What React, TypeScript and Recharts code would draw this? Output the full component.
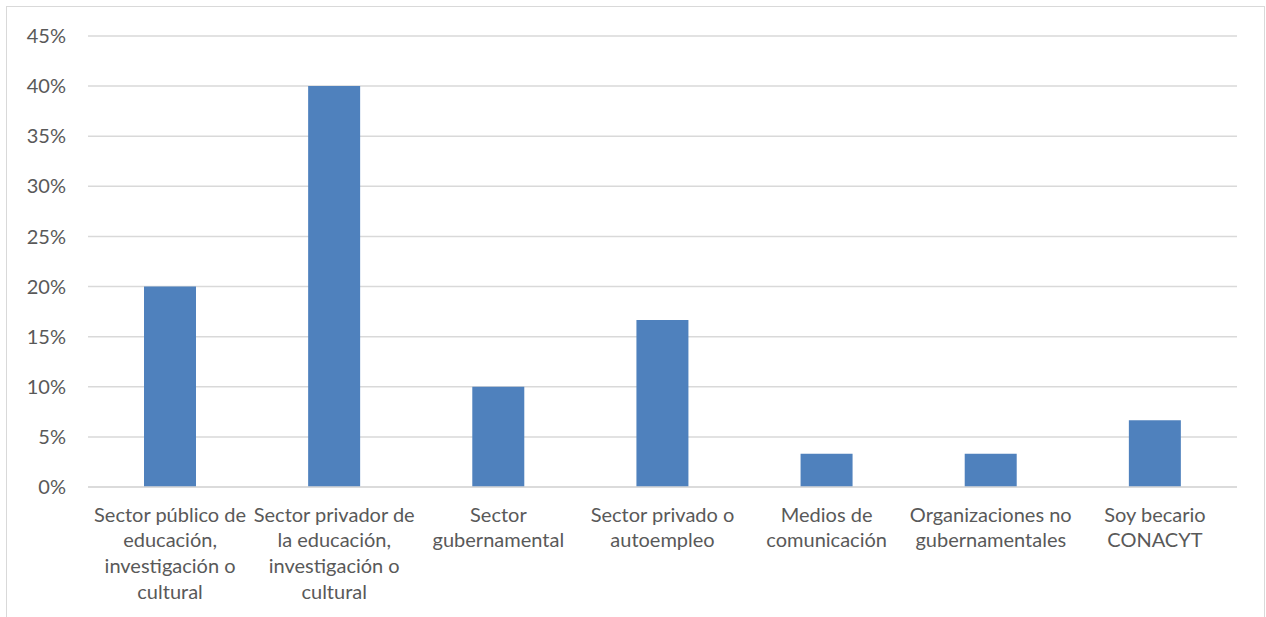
import { Bar, BarChart, CartesianGrid, XAxis, YAxis } from "recharts"

const categories = [
  "Sector público de\neducación,\ninvestigación o\ncultural",
  "Sector privador de\nla educación,\ninvestigación o\ncultural",
  "Sector\ngubernamental",
  "Sector privado o\nautoempleo",
  "Medios de\ncomunicación",
  "Organizaciones no\ngubernamentales",
  "Soy becario\nCONACYT",
]
const shares = [0.2, 0.4, 0.1, 0.1667, 0.0333, 0.0333, 0.0667]
const yTicks = [0, 0.05, 0.1, 0.15, 0.2, 0.25, 0.3, 0.35, 0.4, 0.45]

const data = categories.map((name, i) => ({ name, value: shares[i] }))

const FONT = "Lato, 'Open Sans', sans-serif"
const GRAY = "#595959"

function CategoryTick(props: any) {
  const { x, y, payload } = props
  const lines = String(payload.value).split("\n")
  return (
    <text x={x} y={y} textAnchor="middle" fill={GRAY} fontFamily={FONT} fontSize={20}>
      {lines.map((line, i) => (
        <tspan key={i} x={x} dy={i === 0 ? 34.5 : 25.8}>
          {line}
        </tspan>
      ))}
    </text>
  )
}

export default function App() {
  return (
    <div style={{ position: "fixed", left: 0, top: 0, width: 1266, height: 617, overflow: "hidden", background: "#fff" }}>
      <div
        style={{
          position: "absolute",
          left: 6,
          top: 6,
          width: 1257,
          height: 700,
          border: "1px solid #d9d9d9",
        }}
      />
      <div style={{ position: "absolute", left: 0, top: 0 }}>
        <BarChart width={1266} height={617} data={data} margin={{ top: 36, right: 29, bottom: 0, left: 0 }} barCategoryGap={0}>
          <CartesianGrid vertical={false} stroke="#d9d9d9" strokeWidth={1.5} />
          <XAxis
            dataKey="name"
            height={130}
            axisLine={{ stroke: "#d9d9d9", strokeWidth: 1.5 }}
            tickLine={false}
            tickSize={0}
            tickMargin={0}
            interval={0}
            tick={<CategoryTick />}
          />
          <YAxis
            width={88}
            domain={[0, 0.45]}
            ticks={yTicks}
            axisLine={false}
            tickLine={false}
            tickSize={0}
            tickMargin={22}
            tickFormatter={(v: number) => `${Math.round(v * 100)}%`}
            tick={{ fill: GRAY, fontSize: 20, fontFamily: FONT }}
          />
          <Bar dataKey="value" fill="#4f81bd" barSize={52} isAnimationActive={false} />
        </BarChart>
      </div>
    </div>
  )
}
